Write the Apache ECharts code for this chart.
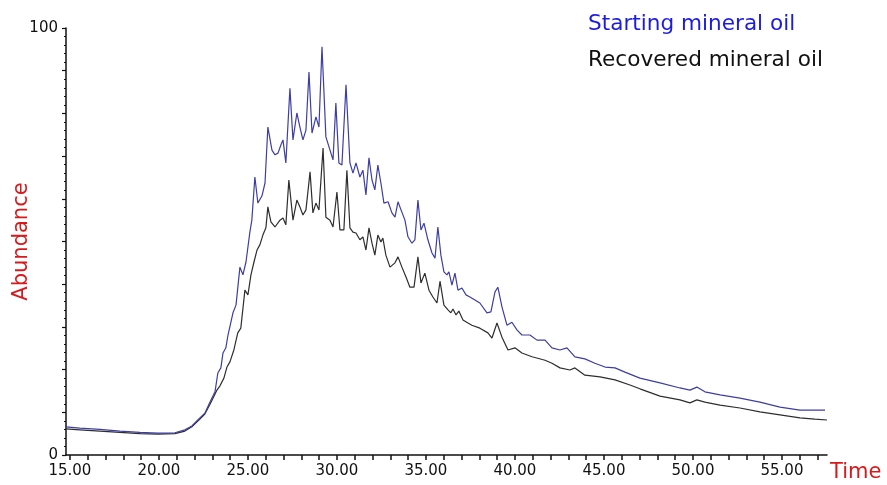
<!DOCTYPE html>
<html>
<head>
<meta charset="utf-8">
<script src="https://cdn.jsdelivr.net/npm/echarts@6/dist/echarts.min.js"></script>
<style>
    html, body { margin: 0; padding: 0; background: #fff; }
    #chart { width: 887px; height: 485px; }
</style>
</head>
<body>
<div id="chart"></div>
<script>
    // [time, abundance]
    var startingOil = [
        [14.78, 6.6], [15.56, 6.3], [16.69, 6.0], [17.81, 5.6], [18.93, 5.3], [19.94, 5.1],
        [20.90, 5.2], [21.46, 5.9], [21.85, 6.8], [22.30, 8.7], [22.58, 9.8], [22.87, 12.4],
        [23.15, 14.8], [23.31, 19.2], [23.48, 20.4], [23.60, 23.9], [23.76, 25.1], [23.88, 28.1],
        [24.16, 33.3], [24.33, 35.1], [24.55, 44.0], [24.72, 42.2], [24.89, 45.2], [25.11, 52.2],
        [25.22, 55.0], [25.39, 65.1], [25.56, 59.0], [25.79, 60.7], [25.96, 63.7], [26.12, 76.8],
        [26.35, 71.4], [26.52, 70.3], [26.69, 70.7], [26.85, 72.6], [26.97, 73.8], [27.13, 68.4],
        [27.36, 85.9], [27.53, 73.8], [27.75, 80.1], [27.92, 76.8], [28.09, 73.8], [28.26, 76.1],
        [28.43, 89.7], [28.60, 75.4], [28.82, 79.2], [28.99, 76.8], [29.16, 95.6], [29.38, 74.5],
        [29.61, 71.4], [29.78, 69.1], [29.94, 82.4], [30.11, 68.4], [30.28, 67.9], [30.51, 86.7],
        [30.73, 68.4], [30.90, 66.0], [31.07, 68.4], [31.29, 65.1], [31.46, 66.7], [31.63, 60.9],
        [31.80, 69.6], [31.97, 64.4], [32.13, 62.1], [32.30, 67.9], [32.47, 63.7], [32.64, 59.0],
        [32.87, 59.3], [33.09, 56.7], [33.26, 55.7], [33.43, 59.3], [33.60, 57.4], [33.82, 55.0],
        [33.99, 51.1], [34.21, 49.6], [34.38, 50.4], [34.55, 59.7], [34.72, 52.7], [34.89, 54.3],
        [35.11, 50.4], [35.34, 47.3], [35.51, 46.1], [35.67, 53.4], [35.84, 46.8], [36.01, 42.9],
        [36.18, 42.2], [36.29, 42.9], [36.46, 39.8], [36.63, 42.6], [36.80, 38.6], [37.02, 39.1],
        [37.25, 37.5], [37.47, 37.0], [37.75, 36.3], [38.03, 35.6], [38.43, 33.3], [38.65, 33.5],
        [38.88, 38.2], [39.04, 39.3], [39.27, 34.7], [39.55, 30.4], [39.83, 31.1], [40.11, 29.3],
        [40.39, 28.1], [40.84, 28.1], [41.24, 26.9], [41.69, 26.9], [42.08, 25.1], [42.53, 24.6],
        [42.92, 25.1], [43.37, 23.0], [43.93, 22.5], [44.49, 21.5], [45.06, 20.6], [45.62, 20.4],
        [46.18, 19.4], [47.02, 18.0], [48.15, 16.9], [49.27, 15.7], [49.83, 15.2], [50.22, 15.9],
        [50.67, 14.8], [51.52, 14.1], [52.64, 13.3], [53.76, 12.4], [54.89, 11.2], [56.01, 10.5],
        [57.42, 10.5]
    ];

    var recoveredOil = [
        [14.78, 6.1], [15.56, 5.9], [16.69, 5.6], [17.81, 5.3], [18.93, 5.0], [19.94, 4.9],
        [20.90, 5.0], [21.46, 5.6], [21.85, 6.6], [22.30, 8.4], [22.58, 9.6], [22.87, 11.9],
        [23.10, 13.8], [23.26, 15.2], [23.43, 16.2], [23.65, 18.0], [23.82, 20.6], [23.99, 21.8],
        [24.21, 24.6], [24.43, 28.6], [24.60, 29.7], [24.83, 38.6], [25.00, 37.5], [25.17, 42.2],
        [25.34, 45.2], [25.51, 48.0], [25.67, 49.2], [25.84, 51.5], [26.01, 53.2], [26.12, 58.1],
        [26.29, 54.6], [26.52, 53.4], [26.80, 55.0], [26.97, 55.5], [27.13, 53.9], [27.30, 64.4],
        [27.53, 55.0], [27.75, 59.7], [27.92, 58.1], [28.09, 56.2], [28.26, 57.4], [28.49, 66.3],
        [28.65, 56.7], [28.82, 59.0], [28.99, 57.4], [29.22, 71.9], [29.38, 55.7], [29.61, 55.0],
        [29.78, 53.4], [30.00, 61.6], [30.17, 52.7], [30.39, 52.7], [30.56, 66.7], [30.73, 53.2],
        [30.90, 52.2], [31.07, 52.0], [31.29, 50.4], [31.46, 51.1], [31.63, 48.0], [31.80, 53.2],
        [31.97, 49.6], [32.13, 46.8], [32.30, 51.5], [32.47, 49.9], [32.58, 50.8], [32.75, 46.8],
        [32.98, 44.0], [33.26, 45.0], [33.43, 46.4], [33.65, 44.0], [33.88, 41.7], [34.10, 39.3],
        [34.33, 39.3], [34.55, 46.4], [34.72, 40.3], [34.94, 42.6], [35.17, 38.6], [35.39, 37.0],
        [35.62, 35.6], [35.79, 40.7], [36.01, 35.1], [36.24, 34.0], [36.40, 33.3], [36.52, 34.2],
        [36.69, 32.8], [36.85, 33.7], [37.08, 31.6], [37.36, 30.9], [37.58, 30.4], [38.03, 29.7],
        [38.48, 28.6], [38.71, 27.4], [38.99, 30.9], [39.27, 27.6], [39.61, 24.6], [40.00, 25.1],
        [40.39, 23.9], [40.96, 23.0], [41.69, 22.2], [42.08, 21.5], [42.53, 20.4], [43.09, 19.9],
        [43.37, 20.4], [43.93, 18.7], [44.78, 18.3], [45.62, 17.6], [46.46, 16.4], [47.02, 15.5],
        [48.15, 13.8], [49.27, 12.9], [49.83, 12.2], [50.22, 12.9], [50.67, 12.4], [51.52, 11.7],
        [52.64, 11.0], [53.76, 10.1], [54.89, 9.4], [56.01, 8.7], [56.85, 8.4], [57.53, 8.2]
    ];

    var xTickValues = [15, 16, 17, 18, 19, 20, 21, 22, 23, 24, 25, 26, 27, 28, 29, 30, 31, 32, 33, 34, 35, 36,
        37, 38, 39, 40, 41, 42, 43, 44, 45, 46, 47, 48, 49, 50, 51, 52, 53, 54, 55, 56, 57];
    var xLabelValues = [15, 20, 25, 30, 35, 40, 45, 50, 55];
    var yLabelValues = [0, 100];

    var FONT = 'DejaVu Sans';
    var RED = '#d9181c';

    var chart = echarts.init(document.getElementById('chart'), null, { renderer: 'canvas' });

    var option = {
        animation: false,
        backgroundColor: '#fff',
        textStyle: { fontFamily: FONT },
        grid: { left: 66, right: 60, top: 28, bottom: 30, containLabel: false, outerBoundsMode: 'none' },
        graphic: [
            {
                type: 'text', left: 588, top: 13,
                style: { text: 'Starting mineral oil', fill: '#1c1ce0', font: '21.6px "DejaVu Sans"' }
            },
            {
                type: 'text', left: 588, top: 49,
                style: { text: 'Recovered mineral oil', fill: '#111', font: '21.6px "DejaVu Sans"' }
            }
        ],
        xAxis: {
            type: 'value',
            min: 14.78,
            max: 57.53,
            name: 'Time',
            nameLocation: 'end',
            nameGap: 3,
            nameTextStyle: {
                color: RED, fontSize: 21, fontFamily: FONT,
                verticalAlign: 'top', padding: [7, 0, 0, 0]
            },
            axisLine: { show: true, onZero: false, lineStyle: { color: '#111', width: 1.5 } },
            axisTick: { show: true, customValues: xTickValues, length: 5, lineStyle: { color: '#111', width: 1.5 } },
            axisLabel: {
                customValues: xLabelValues,
                color: '#111', fontSize: 15, fontFamily: FONT, margin: 9,
                formatter: function (v) { return v.toFixed(2); }
            },
            splitLine: { show: false }
        },
        yAxis: {
            type: 'value',
            min: 0,
            max: 100,
            interval: 10,
            name: 'Abundance',
            nameLocation: 'middle',
            nameRotate: 90,
            nameGap: 34,
            nameMoveOverlap: false,
            nameTextStyle: { color: RED, fontSize: 21, fontFamily: FONT },
            axisLine: { show: true, lineStyle: { color: '#111', width: 1.5 } },
            axisTick: { show: true, length: 4, lineStyle: { color: '#111', width: 1.2 } },
            minorTick: { show: true, splitNumber: 5, length: 2, lineStyle: { color: '#111', width: 1 } },
            axisLabel: {
                customValues: yLabelValues,
                color: '#111', fontSize: 15, fontFamily: FONT, margin: 8
            },
            splitLine: { show: false }
        },
        series: [
            {
                name: 'Recovered mineral oil',
                type: 'line',
                data: recoveredOil,
                showSymbol: false,
                smooth: false,
                lineStyle: { color: '#2e2e2e', width: 1.2 },
                z: 2
            },
            {
                name: 'Starting mineral oil',
                type: 'line',
                data: startingOil,
                showSymbol: false,
                smooth: false,
                lineStyle: { color: '#3d3da6', width: 1.2 },
                z: 3
            }
        ]
    };

    chart.setOption(option);
</script>
</body>
</html>
